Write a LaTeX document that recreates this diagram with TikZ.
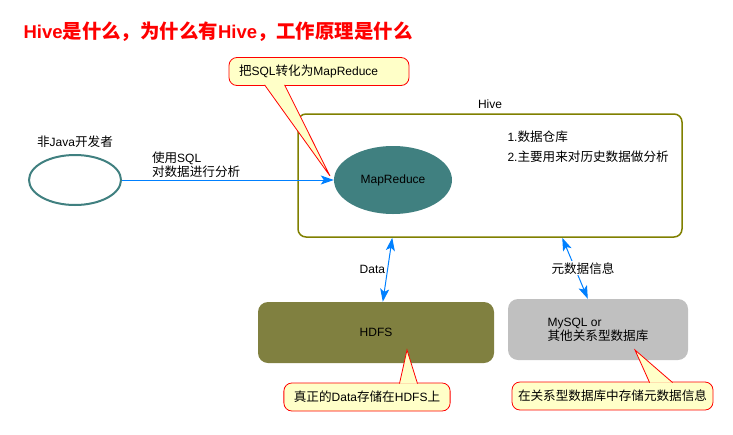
\documentclass[tikz,border=0pt]{standalone}
\usepackage{fontspec}
\setmainfont{Liberation Sans}
\newfontfamily\cjk[Scale=1.05]{Noto Sans CJK SC}
\usepackage{xcolor}
\usetikzlibrary{arrows.meta,positioning,shapes.geometric}
\definecolor{hiveteal}{HTML}{408080}
\definecolor{hiveolive}{HTML}{808000}
\definecolor{hdfsolive}{HTML}{808040}
\definecolor{metagray}{HTML}{C0C0C0}
\definecolor{arrowblue}{HTML}{0080FF}
\definecolor{noteyellow}{HTML}{FFFFC8}

\begin{document}
\begin{tikzpicture}[
x=1pt, y=-1pt,
font=\fontsize{12}{14}\selectfont,
box/.style={rounded corners=10pt, minimum width=#1, minimum height=61pt, inner sep=0pt},
callout/.style={draw=red, fill=noteyellow, rounded corners=8pt, minimum height=28pt, inner xsep=10pt, line width=0.8pt},
pointer/.style={draw=red, fill=noteyellow, line width=0.8pt},
flow/.style={draw=arrowblue, line width=1pt, -{Stealth[length=13pt, width=9pt, inset=3pt]}},
biflow/.style={flow, {Stealth[length=13pt, width=9pt, inset=3pt]}-{Stealth[length=13pt, width=9pt, inset=3pt]}}
]
\useasboundingbox (0,0) rectangle (733,434);
\node[anchor=west, text=red, font=\fontsize{18.5}{22}\selectfont\bfseries] (title) at (20,32) {Hive{\cjk 是什么，为什么有}Hive{\cjk ，工作原理是什么}};
\node[draw=hiveolive, line width=1.5pt, rounded corners=8pt, minimum width=384pt, minimum height=123pt] (hive) at (490,175.5) {};
\node[above=1pt of hive] (hivelabel) {Hive};
\node[ellipse, fill=hiveteal, minimum width=118pt, minimum height=68pt, inner sep=0pt] (mr) at (393,180) {MapReduce};
\node[ellipse, draw=hiveteal, line width=2pt, minimum width=92pt, minimum height=50pt] (dev) at (75,180) {};
\node[above=3pt of dev] (devlabel) {{\cjk 非}Java{\cjk 开发者}};
\node[anchor=north west, align=left] (notes) at (504,127) {1.{\cjk 数据仓库}\\[6pt] 2.{\cjk 主要用来对历史数据做分析}};
\node[box=236pt, fill=hdfsolive] (hdfs) at (376,332.5) {HDFS};
\node[box=180pt, fill=metagray, align=left] (meta) at (598,329.5) {MySQL or\\{\cjk 其他关系型数据库}};
\draw[flow] (dev) -- (mr) node[pos=0.13, above right, align=left, inner sep=2pt] (sqllabel) {{\cjk 使用}SQL\\{\cjk 对数据进行分析}};
\draw[biflow] ([xshift=95pt]hive.south west) -- node[left, inner sep=2pt] (datalabel) {Data} ([xshift=125pt]hdfs.north west);
\draw[biflow] ([xshift=265pt]hive.south west) -- node[fill=white, inner sep=1pt, xshift=8pt] (metalabel) {{\cjk 元数据信息}} ([xshift=80pt]meta.north west);
\node[callout, text width=160pt, align=left] (tipsql) at (319,71.5) {{\cjk 把}SQL{\cjk 转化为}MapReduce};
\node[callout, minimum width=166pt] (tiphdfs) at (367,397) {{\cjk 真正的}Data{\cjk 存储在}HDFS{\cjk 上}};
\node[callout, minimum width=201pt, inner xsep=6pt] (tipmeta) at (612.5,396) {{\cjk 在关系型数据库中存储元数据信息}};
\coordinate (sqltip) at (330,176);
\coordinate (hdfstip) at (407,350);
\coordinate (metatip) at (635,350);
\filldraw[pointer] ([xshift=36pt, yshift=1pt]tipsql.south west) -- (sqltip) -- ([xshift=56pt, yshift=1pt]tipsql.south west);
\filldraw[pointer] ([xshift=116pt, yshift=-1pt]tiphdfs.north west) -- (hdfstip) -- ([xshift=134pt, yshift=-1pt]tiphdfs.north west);
\filldraw[pointer] ([xshift=138pt, yshift=-1pt]tipmeta.north west) -- (metatip) -- ([xshift=161pt, yshift=-1pt]tipmeta.north west);
\end{tikzpicture}
\end{document}
